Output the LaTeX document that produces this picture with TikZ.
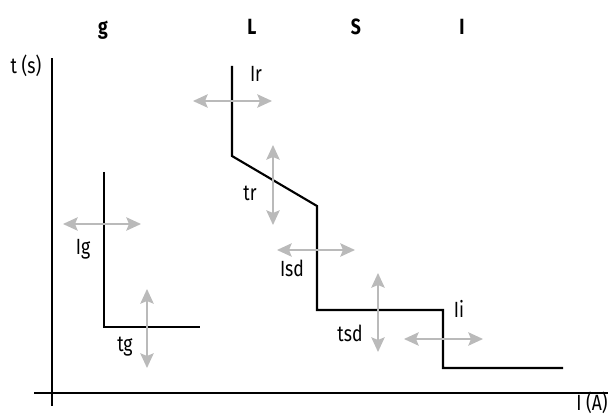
\documentclass[tikz,border=0pt]{standalone}
\usepackage{fontspec}
\setmainfont{Fira Sans}[FakeStretch=0.8]
\usetikzlibrary{arrows.meta}
\begin{document}
\begin{tikzpicture}[x=0.75pt,y=-0.75pt,
    axis/.style={line width=1.6pt},
    curve/.style={line width=1.6pt,line join=miter},
    adj/.style={draw=black!27,line width=1.6pt,{Stealth[length=11pt,width=10pt,inset=2pt]}-{Stealth[length=11pt,width=10pt,inset=2pt]}},
    lbl/.style={anchor=base,inner sep=0pt,font=\fontsize{16.5}{18}\selectfont},
    head/.style={lbl,font=\fontsize{16.5}{18}\selectfont\bfseries}]
    \useasboundingbox (0,0) rectangle (608,417);
    % axes
    \coordinate (ybot) at (52,406);
    \coordinate (ytop) at (52,58);
    \coordinate (xl) at (34,393);
    \coordinate (xr) at (608,393);
    \draw[axis] (ybot) -- (ytop);
    \draw[axis] (xl) -- (xr);
    \node[lbl] (tlab) at (26,74) {t (s)};
    \node[lbl] (ilab) at (592,411) {I (A)};
    \foreach \t/\x in {g/103,L/252,S/356,I/462}
        {\node[head] (h\t) at (\x,35) {\t};
        }
    % trip curves
    \coordinate (g1) at (104,172);
    \coordinate (g2) at (104,327);
    \coordinate (g3) at (200,327);
    \draw[curve] (g1) -- (g2) -- (g3);
    \coordinate (c1) at (232,66);
    \coordinate (c2) at (232,156);
    \coordinate (c3) at (317,206);
    \coordinate (c4) at (317,310);
    \coordinate (c5) at (443,310);
    \coordinate (c6) at (443,368);
    \coordinate (c7) at (563,368);
    \draw[curve] (c1) -- (c2) -- (c3) -- (c4) -- (c5) -- (c6) -- (c7);
    % settings
    \foreach \n/\xa/\ya/\xb/\yb in {ir/193/101/272/101,tr/273/145/273/225,ig/63/224/141/224,tg/147/289/147/368,
        isd/277/250/355/250,tsd/378/273/378/352,ii/404/339/483/339}
        {\coordinate (\n-a) at (\xa,\ya);
        \coordinate (\n-b) at (\xb,\yb);
        \draw[adj] (\n-a) -- (\n-b);
        }
    \node[lbl] (irlab) at (256,82) {Ir};
    \node[lbl] (trlab) at (250,201) {tr};
    \node[lbl] (iglab) at (83,255) {Ig};
    \node[lbl] (tglab) at (125,352) {tg};
    \node[lbl] (isdlab) at (292,277) {Isd};
    \node[lbl] (tsdlab) at (350,342) {tsd};
    \node[lbl] (iilab) at (459,318) {Ii};
\end{tikzpicture}
\end{document}
